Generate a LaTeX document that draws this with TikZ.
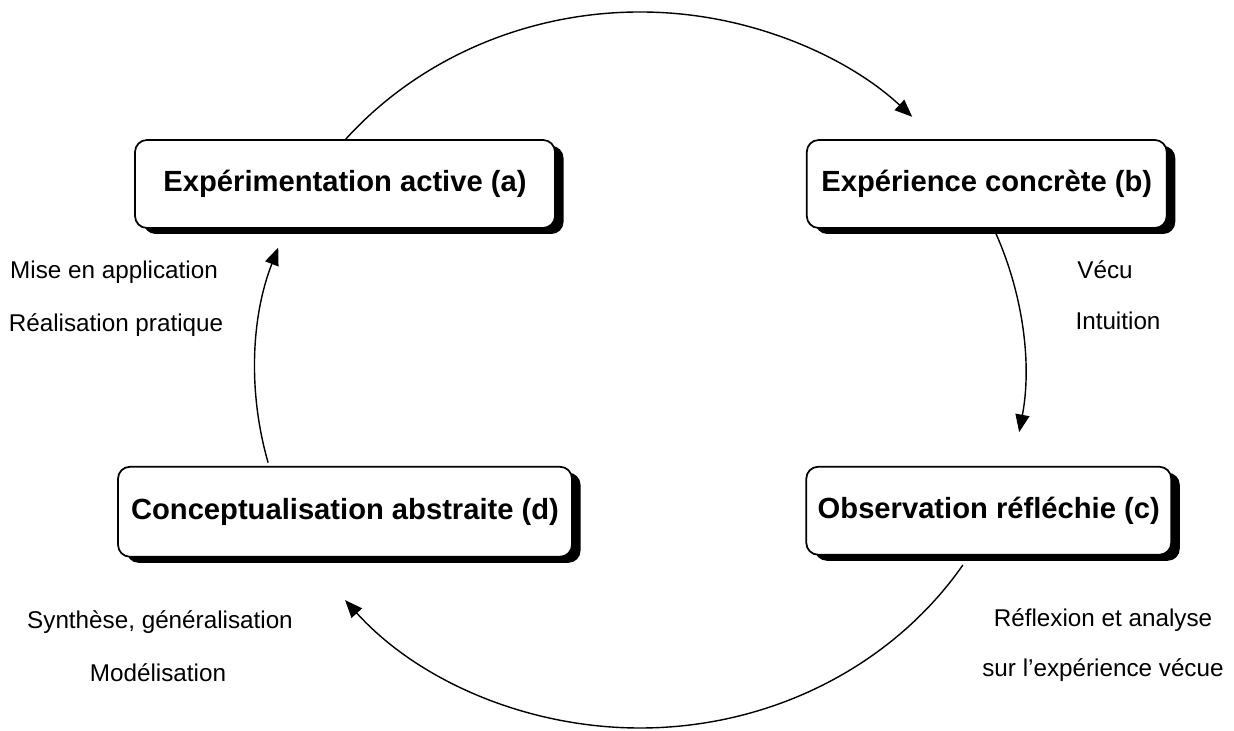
\documentclass[tikz,border=0pt]{standalone}
\usepackage{fontspec}
\setmainfont{Liberation Sans}
\usepackage{tikz}
\usetikzlibrary{positioning, shadows, arrows.meta, calc}

\begin{document}
\begin{tikzpicture}[
    etape/.style={rectangle, rounded corners=0.24cm, draw=black, line width=1pt,
      fill=white, minimum height=1.76cm, font=\fontsize{16.6}{20}\selectfont\bfseries,
      drop shadow={fill=black, opacity=1, shadow xshift=0.17cm, shadow yshift=-0.12cm}},
    lbl/.style={font=\fontsize{13.8}{16}\selectfont, inner sep=0pt},
    cycle/.style={line width=0.8pt, -{Triangle[length=10pt, width=8pt]}}
    ]

    \useasboundingbox (0,0) rectangle (24.68,-14.62);

    % Etapes
    \node[etape, minimum width=8.4cm] (Experimentation) at (6.9,-3.68)
    {Expérimentation active (a)};
    \node[etape, minimum width=7.2cm, right=5cm of Experimentation]
    (Experience) {Expérience concrète (b)};
    \node[etape, minimum width=9.08cm, minimum height=1.8cm,
      below=4.74cm of Experimentation] (Conceptualisation)
    {Conceptualisation abstraite (d)};
    \node[etape, minimum width=7.3cm, below=4.74cm of Experience,
      xshift=0.04cm] (Observation) {Observation réfléchie (c)};

    % Centre du cycle
    \coordinate (centre) at (12.8,-7.4);
    \coordinate (depA) at ($(centre)+(140:7.7 and 7.16)$);
    \coordinate (depB) at ($(centre)+(22.5:7.7 and 7.16)$);
    \coordinate (depC) at ($(centre)+(-33:7.7 and 7.16)$);
    \coordinate (depD) at ($(centre)+(195:7.7 and 7.16)$);

    % Fleches du cycle
    \draw[cycle] (depA) arc[start angle=140, end angle=45,
      x radius=7.7, y radius=7.16];
    \draw[cycle] (depB) arc[start angle=22.5, end angle=-10,
      x radius=7.7, y radius=7.16];
    \draw[cycle] (depC) arc[start angle=-33, end angle=-140,
      x radius=7.7, y radius=7.16];
    \draw[cycle] (depD) arc[start angle=195, end angle=160,
      x radius=7.7, y radius=7.16];

    % Commentaires
    \node[lbl] (mise) at (2.28,-5.44) {Mise en application};
    \node[lbl] (realisation) at (2.32,-6.5) {Réalisation pratique};

    \node[lbl] (vecu) at (22.1,-5.4) {Vécu};
    \node[lbl] (intuition) at (22.36,-6.42) {Intuition};

    \node[lbl] (synthese) at (3.2,-12.44) {Synthèse, généralisation};
    \node[lbl] (modelisation) at (3.16,-13.46) {Modélisation};

    \node[lbl] (reflexion) at (22.06,-12.4) {Réflexion et analyse};
    \node[lbl] (surExp) at (22.06,-13.4) {sur l’expérience vécue};

\end{tikzpicture}
\end{document}
